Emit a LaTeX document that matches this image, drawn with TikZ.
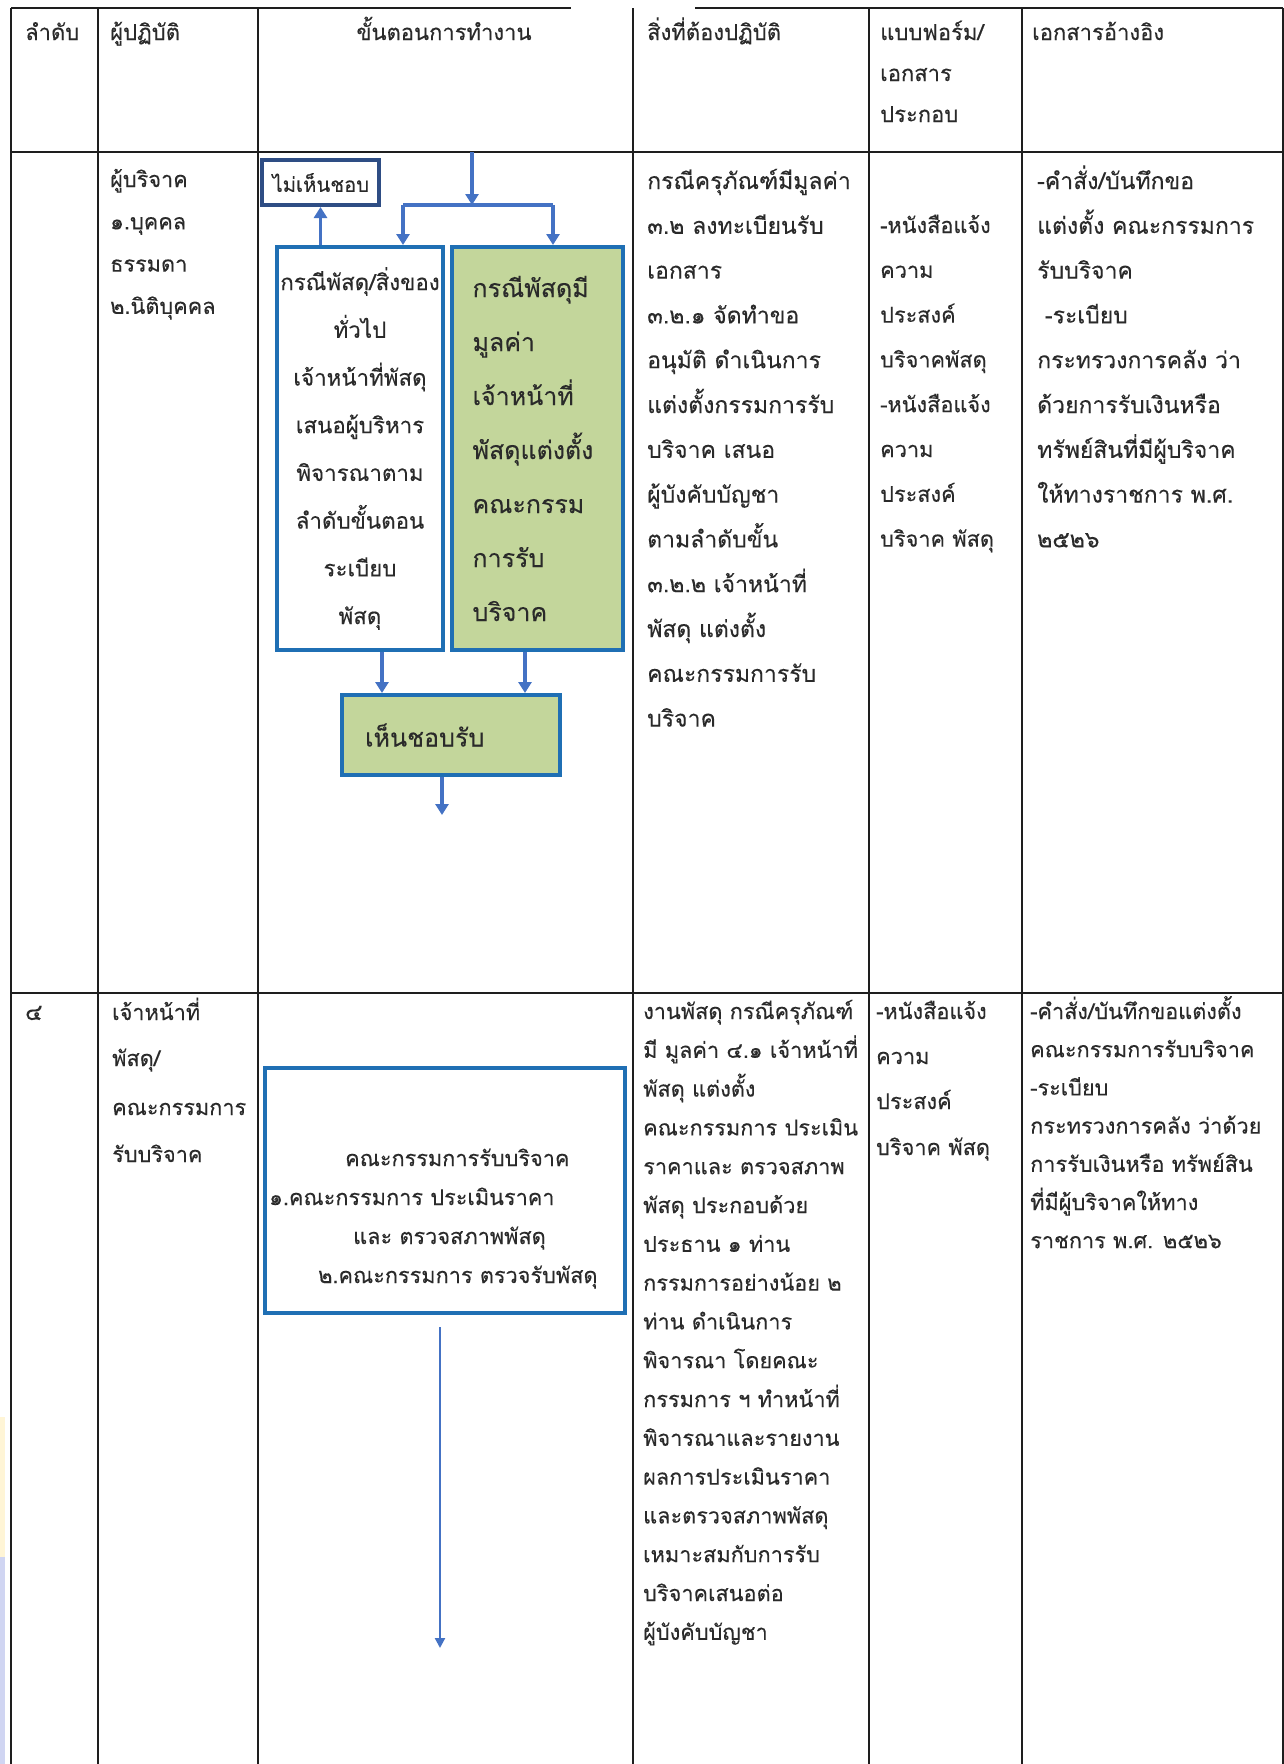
\documentclass[tikz,border=0pt]{standalone}
\usepackage{fontspec}
\newfontfamily\thai[Script=Thai,FakeBold=0.2]{Loma}
\usetikzlibrary{arrows.meta,calc}
\definecolor{arrowblue}{HTML}{4472C4}
\definecolor{boxblue}{HTML}{1F6FB4}
\definecolor{navyb}{HTML}{2E4D84}
\definecolor{oliveg}{HTML}{C3D69B}
\definecolor{gridc}{HTML}{1E1E1E}
\definecolor{txtc}{HTML}{2A2A2A}
\definecolor{stripy}{HTML}{FFF5D6}
\definecolor{stripb}{HTML}{D0D5F2}
\newcommand\fA{\thai\fontsize{23}{23}\selectfont}
\newcommand\fH{\thai\fontsize{22}{22}\selectfont}
\newcommand\fB{\thai\fontsize{21.7}{21.7}\selectfont}
\newcommand\fN{\thai\fontsize{20.3}{20.3}\selectfont}
\newcommand\fG{\thai\fontsize{25}{54}\selectfont}
\newcommand\fL{\thai\fontsize{22.3}{47.7}\selectfont}
\begin{document}
\begin{tikzpicture}[x=1pt,y=-1pt,
  gridline/.style={draw=gridc,line width=1.6pt},
  lnA/.style={anchor=base west,inner sep=0pt,text=txtc,font=\fA},
  lnH/.style={anchor=base west,inner sep=0pt,text=txtc,font=\fH},
  lnB/.style={anchor=base west,inner sep=0pt,text=txtc,font=\fB},
  flow/.style={draw=arrowblue,line width=3.6pt,-{Triangle[length=11pt,width=13pt]}},
  flowbar/.style={draw=arrowblue,line width=3.6pt},
  flowthin/.style={draw=arrowblue,line width=2.2pt,-{Triangle[length=10pt,width=10pt]}},
  bluebox/.style={draw=boxblue,line width=4pt,inner sep=0pt,text=txtc},
]
\useasboundingbox (0,0) rectangle (1284,1764);
\fill[white] (0,0) rectangle (1284,1764);
\fill[stripy] (0,1417) rectangle (5,1557);
\fill[stripb] (0,1557) rectangle (5,1764);

% ---------- table grid ----------
\draw[gridline] (11,8) -- (571,8);
\draw[gridline] (695,8) -- (1283,8);
\draw[gridline] (11,152) -- (1283,152);
\draw[gridline] (11,993) -- (1283,993);
\foreach \xx in {11,98,258,633,869,1022,1283}
  \draw[gridline] (\xx,8) -- (\xx,1764);

% ---------- header ----------
\node[lnH] (h1) at (25,40) {ลำดับ};
\node[lnH] (h2) at (110,40) {ผู้ปฏิบัติ};
\node[lnH,anchor=base] (h3) at (444,40) {ขั้นตอนการทำงาน};
\node[lnH] (h4) at (647,40) {สิ่งที่ต้องปฏิบัติ};
\node[lnH] (h5a) at (880,40) {แบบฟอร์ม/};
\node[lnH] (h5b) at (880,81) {เอกสาร};
\node[lnH] (h5c) at (880,122) {ประกอบ};
\node[lnH] (h6) at (1032,40) {เอกสารอ้างอิง};

% ---------- row 1 ----------
\foreach \t [count=\i] in {ผู้บริจาค,๑.บุคคล,ธรรมดา,๒.นิติบุคคล}
  \node[lnB] (dn\i) at (110,{187+(\i-1)*42.3}) {\t};

\foreach \t [count=\i] in {กรณีครุภัณฑ์มีมูลค่า,๓.๒ ลงทะเบียนรับ,เอกสาร,๓.๒.๑ จัดทำขอ,อนุมัติ ดำเนินการ,แต่งตั้งกรรมการรับ,บริจาค เสนอ,ผู้บังคับบัญชา,ตามลำดับขั้น,๓.๒.๒ เจ้าหน้าที่,พัสดุ แต่งตั้ง,คณะกรรมการรับ,บริจาค}
  \node[lnA] (ra\i) at (647,{189+(\i-1)*44.8}) {\t};

\foreach \t [count=\i] in {-หนังสือแจ้ง,ความ,ประสงค์,บริจาคพัสดุ,-หนังสือแจ้ง,ความ,ประสงค์,บริจาค พัสดุ}
  \node[lnB] (rf\i) at (880,{233+(\i-1)*44.8}) {\t};

\foreach \t [count=\i] in {-คำสั่ง/บันทึกขอ,แต่งตั้ง คณะกรรมการ,รับบริจาค,\ -ระเบียบ,กระทรวงการคลัง ว่า,ด้วยการรับเงินหรือ,ทรัพย์สินที่มีผู้บริจาค,ให้ทางราชการ พ.ศ.,๒๕๒๖}
  \node[lnA] (rr\i) at (1037,{189+(\i-1)*44.8}) {\t};

% flow, row 1
\node[draw=navyb,line width=4pt,fill=white,inner sep=0pt,minimum width=117pt,minimum height=45pt,
      text width=96pt,align=left,text=txtc,font=\fN] (nobox) at (320.5,182.5) {ไม่เห็นชอบ};
\node[bluebox,fill=white,minimum width=166pt,minimum height=403pt,align=center,font=\fL] (leftbox) at (360,448.5)
  {กรณีพัสดุ/สิ่งของ\\ทั่วไป\\เจ้าหน้าที่พัสดุ\\เสนอผู้บริหาร\\พิจารณาตาม\\ลำดับขั้นตอน\\ระเบียบ\\พัสดุ};
\node[bluebox,fill=oliveg,minimum width=171pt,minimum height=403pt,text width=130pt,align=left,font=\fG] (greenbox) at (537.5,448.5)
  {กรณีพัสดุมี\\มูลค่า\\เจ้าหน้าที่\\พัสดุแต่งตั้ง\\คณะกรรม\\การรับ\\บริจาค};
\node[bluebox,fill=oliveg,minimum width=218pt,minimum height=80pt,text width=172pt,align=left,font=\fG] (approve) at (451,735)
  {เห็นชอบรับ};

\coordinate (topin) at (472,152);
\coordinate (jn) at (472,205);
\coordinate (jl) at (403,205);
\coordinate (jr) at (553,205);
\coordinate (out1) at (442,815);
\draw[flow] (topin) -- (jn);
\draw[flowbar] (jl) -- (jr);
\draw[flow] (jl) -- (jl |- leftbox.north);
\draw[flow] (jr) -- (jr |- greenbox.north);
\draw[flow] (nobox.south |- leftbox.north) -- (nobox.south);
\draw[flow] ([xshift=22pt]leftbox.south) -- ([xshift=22pt]leftbox.south |- approve.north);
\draw[flow] ([xshift=-12.5pt]greenbox.south) -- ([xshift=-12.5pt]greenbox.south |- approve.north);
\draw[flow] (approve.south -| out1) -- (out1);

% ---------- row 2 ----------
\node[lnA] (n4) at (25,1020) {๔};
\foreach \t/\yy [count=\i] in {เจ้าหน้าที่/1020,พัสดุ\slash/1066,คณะกรรมการ/1115,รับบริจาค/1162}
  \node[lnB] (sp\i) at (112,\yy) {\t};

\foreach \t [count=\i] in {งานพัสดุ กรณีครุภัณฑ์,มี มูลค่า ๔.๑ เจ้าหน้าที่,พัสดุ แต่งตั้ง,คณะกรรมการ ประเมิน,ราคาและ ตรวจสภาพ,พัสดุ ประกอบด้วย,ประธาน ๑ ท่าน,กรรมการอย่างน้อย ๒,ท่าน ดำเนินการ,พิจารณา โดยคณะ,กรรมการ ฯ ทำหน้าที่,พิจารณาและรายงาน,ผลการประเมินราคา,และตรวจสภาพพัสดุ,เหมาะสมกับการรับ,บริจาคเสนอต่อ,ผู้บังคับบัญชา}
  \node[lnB] (sa\i) at (643,{1019+(\i-1)*38.8}) {\t};

\foreach \t/\yy [count=\i] in {-หนังสือแจ้ง/1019,ความ/1064,ประสงค์/1109,บริจาค พัสดุ/1155}
  \node[lnB] (sf\i) at (876,\yy) {\t};

\foreach \t [count=\i] in {-คำสั่ง/บันทึกขอแต่งตั้ง,คณะกรรมการรับบริจาค,-ระเบียบ,กระทรวงการคลัง ว่าด้วย,การรับเงินหรือ ทรัพย์สิน,ที่มีผู้บริจาคให้ทาง,ราชการ พ.ศ. ๒๕๒๖}
  \node[lnB] (sr\i) at (1030,{1019+(\i-1)*38.2}) {\t};

\node[bluebox,fill=white,minimum width=360pt,minimum height=245pt] (committee) at (445,1190.5) {};
\node[lnB] (cm1) at (345,1166) {คณะกรรมการรับบริจาค};
\node[lnB] (cm2) at (269,1205) {๑.คณะกรรมการ ประเมินราคา};
\node[lnB] (cm3) at (353,1244) {และ ตรวจสภาพพัสดุ};
\node[lnB] (cm4) at (318,1283) {๒.คณะกรรมการ ตรวจรับพัสดุ};

\coordinate (c2start) at (440,1327);
\coordinate (c2end) at (440,1648);
\draw[flowthin] (c2start) -- (c2end);
\end{tikzpicture}
\end{document}
